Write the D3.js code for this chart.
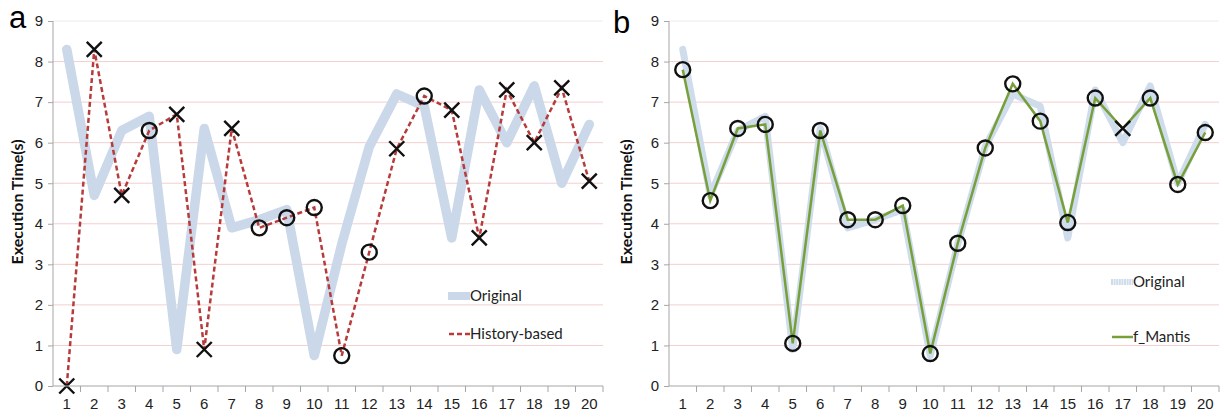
<!DOCTYPE html>
<html>
<head>
<meta charset="utf-8">
<script src="https://cdn.jsdelivr.net/npm/d3@7"></script>
<style>
	body { margin: 0; background: #fff; }
	svg { display: block; font-family: Lato, "Open Sans", sans-serif; }
	.tick text { font-size: 15px; fill: #222; }
	.domain, .tick line { stroke: #a6a6a6; }
</style>
</head>
<body>
<svg id="chart" width="1224" height="419"></svg>
<script>
// run ids on the x axis
const categories = [1, 2, 3, 4, 5, 6, 7, 8, 9, 10, 11, 12, 13, 14, 15, 16, 17, 18, 19, 20];
const yTicks = [0, 1, 2, 3, 4, 5, 6, 7, 8, 9];

// measured execution time
const original = [8.3, 4.7, 6.3, 6.65, 0.9, 6.35, 3.9, 4.1, 4.35, 0.75,
                  3.5, 5.9, 7.2, 6.9, 3.65, 7.3, 6.0, 7.4, 5.0, 6.45];

// panel a: history-based prediction, o = close enough, x = miss
const historyBased = [0, 8.3, 4.7, 6.3, 6.7, 0.9, 6.35, 3.9, 4.15, 4.4,
                      0.75, 3.3, 5.85, 7.15, 6.8, 3.65, 7.3, 6.0, 7.35, 5.05];
const historyMarks = ["x", "x", "x", "o", "x", "x", "x", "o", "o", "o",
                      "o", "o", "x", "o", "x", "x", "x", "x", "x", "x"];

// panel b: f_Mantis prediction
const mantis = [7.8, 4.57, 6.35, 6.45, 1.05, 6.3, 4.1, 4.1, 4.45, 0.8,
                3.52, 5.87, 7.45, 6.53, 4.03, 7.1, 6.35, 7.1, 4.97, 6.25];
const mantisMarks = ["o", "o", "o", "o", "o", "o", "o", "o", "o", "o",
                     "o", "o", "o", "o", "o", "o", "x", "o", "o", "o"];

document.addEventListener("DOMContentLoaded", init)

function init() {
	var svg = d3.select("#chart");

	drawPanel(svg, {
		letter: "a", letterX: 9, letterY: 28,
		left: 53, right: 603, titleX: 19,
		pred: historyBased, marks: historyMarks,
		predColor: "#b83b3b", predDash: "5,3",
		origWidth: 9.5,
		legendName: "History-based",
		legX: 448, legY1: 296, legY2: 334
	});

	drawPanel(svg, {
		letter: "b", letterX: 613, letterY: 33,
		left: 669, right: 1219, titleX: 628,
		pred: mantis, marks: mantisMarks,
		predColor: "#77a03a", predDash: null,
		origWidth: 7, textured: true,
		legendName: "f_Mantis",
		legX: 1111, legY1: 282, legY2: 337
	});
}

function drawPanel(svg, o) {
	var x = d3.scaleBand()
	          .domain(categories)
	          .range([o.left, o.right]);
	var y = d3.scaleLinear()
	          .domain([0, 9])
	          .range([386, 21]);
	var cx = d => x(d) + x.bandwidth() / 2;

	var g = svg.append("g");

	// gridlines
	g.append("g")
	 .selectAll("line")
	 .data(yTicks.filter(t => t > 0))
	 .enter()
	 .append("line")
	 .attr("x1", o.left)
	 .attr("x2", o.right)
	 .attr("y1", d => y(d))
	 .attr("y2", d => y(d))
	 .style("stroke", d => d == 9 ? "#ececec" : "#f3cfcf")
	 .style("stroke-width", 1);

	var line = d3.line()
	             .x((d, i) => cx(categories[i]))
	             .y(d => y(d));

	// original series, wide pale band
	g.append("path")
	 .datum(original)
	 .attr("d", line)
	 .style("fill", "none")
	 .style("stroke", o.textured ? "#cfdcec" : "#cad8ea")
	 .style("stroke-width", o.origWidth)
	 .style("stroke-linejoin", "round")
	 .style("stroke-linecap", "round")
	 .style("stroke-dasharray", o.textured ? "2,0.6" : null);

	g.append("path")
	 .datum(o.pred)
	 .attr("d", line)
	 .style("fill", "none")
	 .style("stroke", o.predColor)
	 .style("stroke-width", 2.5)
	 .style("stroke-dasharray", o.predDash);

	// markers
	var pts = o.pred.map((v, i) => ({ c: categories[i], v: v, m: o.marks[i] }));
	var mk = g.append("g")
	          .selectAll(".mk")
	          .data(pts)
	          .enter()
	          .append("g")
	          .attr("transform", d => "translate(" + cx(d.c) + "," + y(d.v) + ")");

	mk.filter(d => d.m == "o")
	  .append("circle")
	  .attr("r", 7.5)
	  .style("fill", "none")
	  .style("stroke", "#111")
	  .style("stroke-width", 2.4);

	mk.filter(d => d.m == "x")
	  .append("path")
	  .attr("d", "M-7.5,-7.5L7.5,7.5M-7.5,7.5L7.5,-7.5")
	  .style("stroke", "#111")
	  .style("stroke-width", 2.4);

	// axes
	g.append("g")
	 .attr("transform", "translate(" + o.left + ",0)")
	 .call(d3.axisLeft(y).tickValues(yTicks).tickSize(5).tickPadding(5))
	 .call(a => a.select(".domain").attr("d", "M0,386V21"));

	var xa = g.append("g")
	          .attr("transform", "translate(0,386)")
	          .call(d3.axisBottom(x).tickSize(0).tickPadding(12));
	xa.select(".domain").attr("d", "M" + o.left + ",0H" + o.right);
	// tick marks sit between categories
	xa.selectAll(".sep")
	  .data(categories)
	  .enter()
	  .append("line")
	  .attr("x1", d => x(d) + x.bandwidth())
	  .attr("x2", d => x(d) + x.bandwidth())
	  .attr("y1", 0)
	  .attr("y2", 6)
	  .style("stroke", "#a6a6a6");

	svg.append("text")
	   .attr("transform", "translate(" + o.titleX + ",202) rotate(-90)")
	   .attr("text-anchor", "middle")
	   .attr("dominant-baseline", "middle")
	   .style("font-size", "16px")
	   .style("font-weight", "bold")
	   .style("fill", "#111")
	   .text("Execution Time(s)");

	svg.append("text")
	   .attr("x", o.letterX)
	   .attr("y", o.letterY)
	   .style("font-family", "Liberation Sans, Arial, sans-serif")
	   .style("font-size", "31px")
	   .text(o.letter);

	// legend
	var leg = svg.append("g");
	leg.append("line")
	   .attr("x1", o.legX).attr("x2", o.legX + 22)
	   .attr("y1", o.legY1).attr("y2", o.legY1)
	   .style("stroke", o.textured ? "#cfdcec" : "#cad8ea")
	   .style("stroke-width", o.textured ? 6 : 8)
	   .style("stroke-dasharray", o.textured ? "2,0.6" : null);
	leg.append("line")
	   .attr("x1", o.legX + 1).attr("x2", o.legX + 22)
	   .attr("y1", o.legY2).attr("y2", o.legY2)
	   .style("stroke", o.predColor)
	   .style("stroke-width", 2.5)
	   .style("stroke-dasharray", o.predDash);
	leg.append("text")
	   .attr("x", o.legX + 22)
	   .attr("y", o.legY1 + 5)
	   .style("font-size", "15px")
	   .style("fill", "#222")
	   .text("Original");
	leg.append("text")
	   .attr("x", o.legX + 22)
	   .attr("y", o.legY2 + 5)
	   .style("font-size", "15px")
	   .style("fill", "#222")
	   .text(o.legendName);
}
</script>
</body>
</html>
